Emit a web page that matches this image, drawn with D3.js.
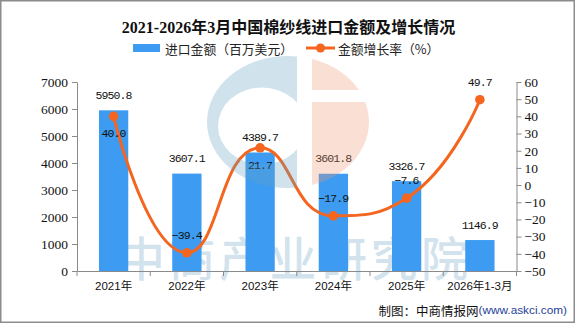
<!DOCTYPE html>
<html><head><meta charset="utf-8">
<script src="https://cdn.jsdelivr.net/npm/d3@7"></script>
<style>
html,body{margin:0;padding:0;background:#fff;}
svg{display:block;}
</style></head>
<body>
<svg id="chart" width="576" height="325"></svg>
<script>
const title = "2021-2026年3月中国棉纱线进口金额及增长情况";
const categories = ["2021年","2022年","2023年","2024年","2025年","2026年1-3月"];
const importValues = [5950.8, 3607.1, 4389.7, 3601.8, 3326.7, 1146.9];
const growthRates = [40.0, -39.4, 21.7, -17.9, -7.6, 49.7];
const leftTicks = [0,1000,2000,3000,4000,5000,6000,7000];
const rightTicks = [-50,-40,-30,-20,-10,0,10,20,30,40,50,60];
const legendLabels = ["进口金额（百万美元）","金额增长率（%）"];
const sourceText = "制图：中商情报网";
const sourceUrl = "(www.askci.com)";
const watermarkText = "中商产业研究院";

const W = 576, H = 325;
const plot = {left: 77, right: 516.5, top: 82, bottom: 271};
const barColor = "#3d9cf2";
const lineColor = "#f4651f";
const axisColor = "#8a8a8a";
const sansCJK = "'Liberation Sans','Noto Sans CJK SC',sans-serif";
const serifNum = "'Liberation Serif','Noto Sans CJK SC',serif";
const monoNum = "'Liberation Mono','DejaVu Sans Mono',monospace";

const svg = d3.select("#chart");

const x = d3.scaleBand().domain(categories).range([plot.left, plot.right]).padding(0);
const yL = d3.scaleLinear().domain([leftTicks[0], leftTicks[leftTicks.length-1]]).range([plot.bottom, plot.top]);
const yR = d3.scaleLinear().domain([rightTicks[0], rightTicks[rightTicks.length-1]]).range([plot.bottom, plot.top]);

// frame
svg.append("rect").attr("x",0.75).attr("y",0.75).attr("width",573.5).attr("height",321.5)
  .attr("fill","#fff").attr("stroke","#8c8c8c").attr("stroke-width",1.5);

// watermark text (behind)
const wmBlue = "rgb(98,158,192)";
const wmOrange = "rgb(238,152,112)";
svg.append("text").attr("x",118).attr("y",255)
  .attr("dominant-baseline","central")
  .attr("font-family","'Noto Sans CJK SC',sans-serif").attr("font-size",47).attr("font-weight",500)
  .attr("letter-spacing",3.5)
  .attr("fill",wmBlue).attr("fill-opacity",0.28).text(watermarkText);

// bars
const barW = x.bandwidth()*0.4;
svg.append("g").selectAll("rect").data(importValues).join("rect")
  .attr("x",(d,i)=>x(categories[i]) + (x.bandwidth()-barW)/2)
  .attr("y",d=>yL(d)).attr("width",barW).attr("height",d=>yL(0)-yL(d))
  .attr("fill",barColor);

// axes
const gL = svg.append("g").attr("transform",`translate(${plot.left},0)`)
  .call(d3.axisLeft(yL).tickValues(leftTicks).tickSize(5).tickSizeOuter(0).tickPadding(4).tickFormat(d3.format("d")));
const gR = svg.append("g").attr("transform",`translate(${plot.right},0)`)
  .call(d3.axisRight(yR).tickValues(rightTicks).tickSize(5).tickSizeOuter(0).tickPadding(3));
[gL,gR].forEach(g=>{
  g.select(".domain").attr("stroke",axisColor);
  g.selectAll(".tick line").attr("stroke",axisColor);
  g.selectAll(".tick text").attr("fill","#111").attr("font-family",serifNum).attr("font-size",13.5);
});
const gB = svg.append("g").attr("transform",`translate(0,${plot.bottom})`)
  .call(d3.axisBottom(x).tickSize(0).tickSizeOuter(0).tickPadding(11));
gB.select(".domain").attr("stroke",axisColor);
gB.selectAll(".tick text").attr("fill","#111").attr("font-family",sansCJK).attr("font-size",11.5);
const boundaries = categories.map(c=>x(c)).concat([x(categories[categories.length-1])+x.bandwidth()]);
gB.selectAll("line.bt").data(boundaries).join("line").attr("class","bt")
  .attr("x1",d=>d).attr("x2",d=>d).attr("y1",0).attr("y2",5).attr("stroke",axisColor);

// bar value labels
svg.append("g").selectAll("text").data(importValues).join("text")
  .attr("x",(d,i)=>x(categories[i])+x.bandwidth()/2)
  .attr("y",d=>yL(d)-15).attr("text-anchor","middle").attr("dominant-baseline","central")
  .attr("font-family",monoNum).attr("font-size",11.5).attr("letter-spacing",-0.9)
  .attr("fill","#111").text(d=>d3.format(".1f")(d));

// smooth line (ECharts-style smoothing)
const pts = growthRates.map((v,i)=>[x(categories[i])+x.bandwidth()/2, yR(v)]);
function smoothPath(points, smooth){
  const p = d3.path();
  let cpx0, cpy0;
  for (let i=0;i<points.length;i++){
    const [px,py] = points[i];
    if (i===0){ p.moveTo(px,py); cpx0=px; cpy0=py; continue; }
    const [prevX,prevY] = points[i-1];
    let cpx1, cpy1, ncx=px, ncy=py;
    if (i===points.length-1){ cpx1=px; cpy1=py; }
    else {
      const [nextX,nextY] = points[i+1];
      let vx = nextX-prevX, vy = nextY-prevY;
      const lp = Math.hypot(px-prevX,py-prevY), ln = Math.hypot(nextX-px,nextY-py);
      const r = ln/(ln+lp);
      ncx = px + vx*smooth*r; ncy = py + vy*smooth*r;
      ncx = Math.max(Math.min(ncx, Math.max(nextX,px)), Math.min(nextX,px));
      ncy = Math.max(Math.min(ncy, Math.max(nextY,py)), Math.min(nextY,py));
      vx = ncx-px; vy = ncy-py;
      cpx1 = px - vx*lp/ln; cpy1 = py - vy*lp/ln;
      cpx1 = Math.max(Math.min(cpx1, Math.max(prevX,px)), Math.min(prevX,px));
      cpy1 = Math.max(Math.min(cpy1, Math.max(prevY,py)), Math.min(prevY,py));
      vx = px-cpx1; vy = py-cpy1;
      ncx = px + vx*ln/lp; ncy = py + vy*ln/lp;
    }
    p.bezierCurveTo(cpx0,cpy0,cpx1,cpy1,px,py);
    cpx0=ncx; cpy0=ncy;
  }
  return p.toString();
}
svg.append("path").attr("d",smoothPath(pts,0.5)).attr("fill","none")
  .attr("stroke",lineColor).attr("stroke-width",3).attr("stroke-linecap","round");
svg.append("g").selectAll("circle").data(pts).join("circle")
  .attr("cx",d=>d[0]).attr("cy",d=>d[1]).attr("r",4.8).attr("fill",lineColor);

// growth labels
const belowIdx = new Set([0,2]);
svg.append("g").selectAll("text").data(growthRates).join("text")
  .attr("x",(d,i)=>pts[i][0]).attr("y",(d,i)=>pts[i][1] + (belowIdx.has(i)?17.5:-17.5))
  .attr("text-anchor","middle").attr("dominant-baseline","central")
  .attr("font-family",monoNum).attr("font-size",11.5).attr("letter-spacing",-0.9)
  .attr("fill","#111").text(d=>d3.format(".1f")(d));

// watermark logo (overlay)
const lg = svg.append("g").attr("pointer-events","none");
const defs = svg.append("defs");
defs.append("clipPath").attr("id","clipL").append("rect").attr("x",150).attr("y",0).attr("width",147).attr("height",325);
defs.append("clipPath").attr("id","clipR").append("rect").attr("x",312).attr("y",0).attr("width",120).attr("height",325);
function ellipsePath(cx,cy,rx,ry){
  return `M${cx-rx},${cy}A${rx},${ry} 0 1,0 ${cx+rx},${cy}A${rx},${ry} 0 1,0 ${cx-rx},${cy}Z`;
}
lg.append("path").attr("d",ellipsePath(288,122,81,66)+ellipsePath(262,126,44,38.5))
  .attr("fill-rule","evenodd").attr("clip-path","url(#clipL)")
  .attr("fill",wmBlue).attr("fill-opacity",0.3);
const orangeMask = defs.append("mask").attr("id","omask");
orangeMask.append("rect").attr("x",0).attr("y",0).attr("width",W).attr("height",H).attr("fill","#fff");
orangeMask.append("rect").attr("x",300).attr("y",90).attr("width",100).attr("height",12).attr("fill","#000");
lg.append("g").attr("clip-path","url(#clipR)").append("path").attr("d",ellipsePath(288,122,81,66))
  .attr("mask","url(#omask)").attr("fill",wmOrange).attr("fill-opacity",0.3);

// title
svg.append("text").attr("x",288.5).attr("y",27).attr("text-anchor","middle").attr("dominant-baseline","central")
  .attr("font-family",serifNum).attr("font-weight","bold").attr("font-size",16).attr("fill","#111").text(title);

// legend
const leg = svg.append("g");
leg.append("rect").attr("x",133).attr("y",44).attr("width",27).attr("height",8).attr("fill",barColor);
leg.append("text").attr("x",165).attr("y",48.5).attr("dominant-baseline","central")
  .attr("font-family","'Noto Sans CJK SC',sans-serif").attr("font-size",12.8).attr("fill","#222").text(legendLabels[0]);
leg.append("line").attr("x1",306).attr("x2",335).attr("y1",48).attr("y2",48).attr("stroke",lineColor).attr("stroke-width",3);
leg.append("circle").attr("cx",320.5).attr("cy",48).attr("r",4.5).attr("fill",lineColor);
leg.append("text").attr("x",338).attr("y",48.5).attr("dominant-baseline","central")
  .attr("font-family","'Noto Sans CJK SC',sans-serif").attr("font-size",12.8).attr("fill","#222").text(legendLabels[1]);

// source
const src = svg.append("text").attr("x",567).attr("y",309.5).attr("text-anchor","end").attr("dominant-baseline","central");
src.append("tspan").attr("font-family","'Noto Sans CJK SC',sans-serif").attr("font-size",12.5).attr("fill","#111").text(sourceText);
src.append("tspan").attr("font-family","'Liberation Sans',sans-serif").attr("font-size",11.8).attr("fill","#1f3f9a").text(sourceUrl);
</script>
</body></html>
